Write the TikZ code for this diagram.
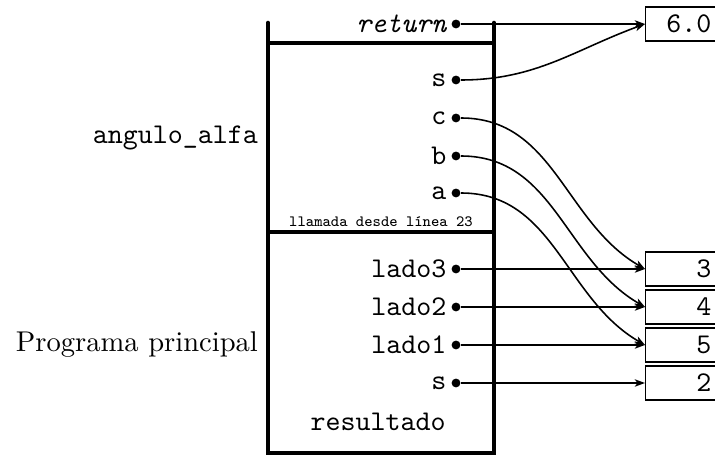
\documentclass[tikz,border=0pt]{standalone}
\usetikzlibrary{arrows.meta}
\tikzset{
	frame/.style={line width=1.6pt, line cap=round},
	sep/.style={line width=1.1pt},
	dot/.style={circle, fill, inner sep=0pt, minimum size=3.1pt},
	var/.style={font=\ttfamily, inner sep=1.4pt},
	ptr/.style={line width=0.55pt, -{Stealth[length=3.6pt, width=2.6pt, inset=1pt]}},
	cell/.style={draw, line width=0.4pt, anchor=west, font=\ttfamily, minimum height=11.9pt,
		text width=21pt, align=right, inner xsep=2pt, inner ysep=0pt}
}
\begin{document}
\begin{tikzpicture}[x=0.35pt, y=-0.35pt]
	\useasboundingbox (0,0) rectangle (715,459);

	% pila de llamadas
	\draw[frame] (268,23)--(268,453)--(494,453)--(494,23);
	\draw[sep] (268,43)--(494,43);
	\draw[sep] (268,232)--(494,232);

	\node[anchor=east, font=\ttfamily] (fname) at (268,138) {angulo\_alfa};
	\node[anchor=east] (pname) at (268,345) {Programa principal};
	\node[anchor=south, font=\ttfamily\fontsize{5.5}{6}\selectfont, inner sep=1pt] (call) at (381,230) {llamada desde línea 23};
	\node[font=\ttfamily] (res) at (378,422) {resultado};

	% variables
	\node[dot, label={[var, font=\ttfamily\itshape]left:return}] (ret) at (456,24) {};
	\node[dot, label={[var]left:s}] (fs) at (456,80) {};
	\node[dot, label={[var]left:c}] (fc) at (456,118) {};
	\node[dot, label={[var]left:b}] (fb) at (456,156) {};
	\node[dot, label={[var]left:a}] (fa) at (456,193) {};
	\node[dot, label={[var]left:lado3}] (l3) at (456,269) {};
	\node[dot, label={[var]left:lado2}] (l2) at (456,307) {};
	\node[dot, label={[var]left:lado1}] (l1) at (456,345) {};
	\node[dot, label={[var]left:s}] (ms) at (456,383) {};

	% valores
	\node[cell] (v60) at (645,24) {6.0};
	\node[cell] (v3) at (645,269) {3};
	\node[cell] (v4) at (645,307) {4};
	\node[cell] (v5) at (645,345) {5};
	\node[cell] (v2) at (645,383) {2};

	\draw[ptr] (ret) -- (v60.west);
	\draw[ptr] (fs) to[out=0, in=200] (v60.west);
	\draw[ptr] (fc) to[out=0, in=150] (v3.west);
	\draw[ptr] (fb) to[out=0, in=150] (v4.west);
	\draw[ptr] (fa) to[out=0, in=150] (v5.west);
	\draw[ptr] (l3) -- (v3.west);
	\draw[ptr] (l2) -- (v4.west);
	\draw[ptr] (l1) -- (v5.west);
	\draw[ptr] (ms) -- (v2.west);
\end{tikzpicture}
\end{document}
